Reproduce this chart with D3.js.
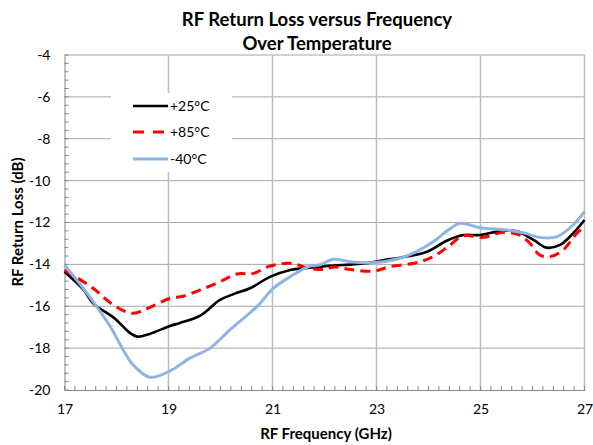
<!DOCTYPE html>
<html><head><meta charset="utf-8">
<script src="https://cdn.jsdelivr.net/npm/d3@7"></script>
<style>body{margin:0;background:#fff}svg{display:block}</style>
</head><body>
<svg id="c" width="593" height="445"></svg>
<script>
const xTicks = [17, 19, 21, 23, 25, 27];
const yTicks = [-4, -6, -8, -10, -12, -14, -16, -18, -20];

const f25 = [17.0, 17.36, 17.55, 17.96, 18.25, 18.4, 18.64, 19.03, 19.22, 19.61, 19.99, 20.25, 20.57, 20.95, 21.34, 21.66, 22.17, 22.49, 22.81, 23.13, 23.45, 23.97, 24.35, 24.67, 24.99, 25.38, 25.7, 26.02, 26.27, 26.53, 26.78, 27.0];
const v25 = [-14.35, -15.2, -15.86, -16.57, -17.26, -17.45, -17.32, -16.94, -16.8, -16.45, -15.7, -15.42, -15.14, -14.6, -14.27, -14.17, -14.06, -14.01, -13.95, -13.8, -13.68, -13.4, -12.87, -12.6, -12.6, -12.41, -12.42, -12.83, -13.2, -13.07, -12.52, -11.88];

const f85 = [17.0, 17.55, 17.94, 18.32, 18.64, 19.03, 19.28, 19.61, 19.99, 20.31, 20.63, 20.95, 21.34, 21.66, 21.95, 22.2, 22.5, 22.94, 23.26, 23.77, 24.09, 24.38, 24.67, 25.05, 25.44, 25.76, 25.95, 26.14, 26.34, 26.59, 26.85, 27.0];
const v85 = [-14.27, -15.14, -15.94, -16.34, -16.05, -15.62, -15.52, -15.22, -14.83, -14.46, -14.43, -14.08, -13.95, -14.15, -14.25, -14.12, -14.25, -14.32, -14.11, -13.92, -13.63, -13.15, -12.64, -12.71, -12.47, -12.6, -12.99, -13.55, -13.63, -13.31, -12.52, -12.2];

const fm40 = [17.0, 17.36, 17.62, 17.88, 18.13, 18.32, 18.64, 19.03, 19.41, 19.8, 20.18, 20.7, 21.02, 21.34, 21.72, 21.9, 22.17, 22.49, 22.81, 23.13, 23.45, 23.77, 24.09, 24.38, 24.61, 24.99, 25.5, 25.82, 26.14, 26.46, 26.78, 27.0];
const vm40 = [-14.03, -15.14, -16.02, -16.97, -18.09, -18.8, -19.39, -19.09, -18.48, -18.0, -17.13, -16.02, -15.14, -14.59, -14.08, -14.03, -13.76, -13.87, -13.92, -13.87, -13.71, -13.39, -12.92, -12.36, -12.04, -12.25, -12.36, -12.49, -12.71, -12.69, -12.12, -11.48];

const seriesNames = ["+25°C", "+85°C", "-40°C"];
const seriesColors = ["#000000", "#FF0000", "#8EB4E3"];

const series = [
  {name: seriesNames[0], color: seriesColors[0], dash: null, w: 2.6, pts: f25.map((f,i)=>[f, v25[i]])},
  {name: seriesNames[1], color: seriesColors[1], dash: "10,6", w: 3, pts: f85.map((f,i)=>[f, v85[i]])},
  {name: seriesNames[2], color: seriesColors[2], dash: null, w: 3, pts: fm40.map((f,i)=>[f, vm40[i]])}
];

const FONT = "Lato, 'Liberation Sans', sans-serif";
const svg = d3.select("#c");
const L = 64.5, R = 584.5, T = 55, B = 390;
const x = d3.scaleLinear().domain([17, 27]).range([L, R]);
const y = d3.scaleLinear().domain([-20, -4]).range([B, T]);

// gridlines
const g = svg.append("g");
g.selectAll(".hg").data(yTicks.filter(d => d !== -20)).join("line")
  .attr("x1", L).attr("x2", R).attr("y1", d => y(d)).attr("y2", d => y(d))
  .attr("stroke", "#a6a6a6").attr("stroke-width", 1);
g.selectAll(".vg").data(xTicks.filter(d => d !== 17)).join("line")
  .attr("x1", d => x(d)).attr("x2", d => x(d)).attr("y1", T).attr("y2", B)
  .attr("stroke", "#bfbfbf").attr("stroke-width", 1.6);

// axes
const fmt = d => String(d);
const yAxis = d3.axisLeft(y).tickValues(yTicks).tickFormat(fmt).tickSize(0).tickPadding(14);
const ya = svg.append("g").attr("transform", `translate(${L},0)`).call(yAxis);
ya.select(".domain").attr("stroke", "#868686");
ya.selectAll("text").attr("font-family", FONT).attr("font-size", 14).attr("fill", "#000");

const xAxis = d3.axisBottom(x).tickValues(xTicks).tickFormat(fmt).tickSize(0).tickPadding(14);
const xa = svg.append("g").attr("transform", `translate(0,${B})`).call(xAxis);
xa.select(".domain").attr("stroke", "#868686");
xa.selectAll("text").attr("font-family", FONT).attr("font-size", 14).attr("fill", "#000");

// minor ticks
const yMinor = d3.range(-20, -4 + 0.001, 0.4);
svg.append("g").selectAll("line").data(yMinor).join("line")
  .attr("x1", L).attr("x2", L + 4).attr("y1", d => y(d)).attr("y2", d => y(d))
  .attr("stroke", "#868686").attr("stroke-width", 1);
const xMinor = d3.range(17, 27 + 0.001, 0.2);
svg.append("g").selectAll("line").data(xMinor).join("line")
  .attr("x1", d => x(d)).attr("x2", d => x(d)).attr("y1", B).attr("y2", B - 4)
  .attr("stroke", "#868686").attr("stroke-width", 1);

// legend box
svg.append("rect").attr("x", 111).attr("y", 93).attr("width", 121).attr("height", 79).attr("fill", "#fff");

// lines
const line = d3.line().x(d => x(d[0])).y(d => y(d[1])).curve(d3.curveCatmullRom.alpha(0.5));
svg.append("g").selectAll("path").data(series).join("path")
  .attr("d", d => line(d.pts)).attr("fill", "none")
  .attr("stroke", d => d.color).attr("stroke-width", d => d.w)
  .attr("stroke-dasharray", d => d.dash);

// legend
const lg = svg.append("g");
const rowsY = [106, 132, 159];
series.forEach((s, i) => {
  lg.append("line").attr("x1", 133).attr("x2", 168).attr("y1", rowsY[i]).attr("y2", rowsY[i])
    .attr("stroke", s.color).attr("stroke-width", s.w)
    .attr("stroke-dasharray", s.dash ? "11,9" : null);
  lg.append("text").attr("x", 170).attr("y", rowsY[i] + 5)
    .attr("font-family", FONT).attr("font-size", 14).text(s.name);
});

// titles
svg.append("text").attr("x", 317).attr("y", 25.5).attr("text-anchor", "middle")
  .attr("font-family", FONT).attr("font-weight", "bold").attr("font-size", 18.5)
  .text("RF Return Loss versus Frequency");
svg.append("text").attr("x", 317).attr("y", 49.5).attr("text-anchor", "middle")
  .attr("font-family", FONT).attr("font-weight", "bold").attr("font-size", 18.5)
  .text("Over Temperature");
svg.append("text").attr("x", 326).attr("y", 439).attr("text-anchor", "middle")
  .attr("font-family", FONT).attr("font-weight", "bold").attr("font-size", 15)
  .text("RF Frequency (GHz)");
svg.append("text").attr("transform", "translate(23,222) rotate(-90)").attr("text-anchor", "middle")
  .attr("font-family", FONT).attr("font-weight", "bold").attr("font-size", 15)
  .text("RF Return Loss (dB)");
</script>
</body></html>
